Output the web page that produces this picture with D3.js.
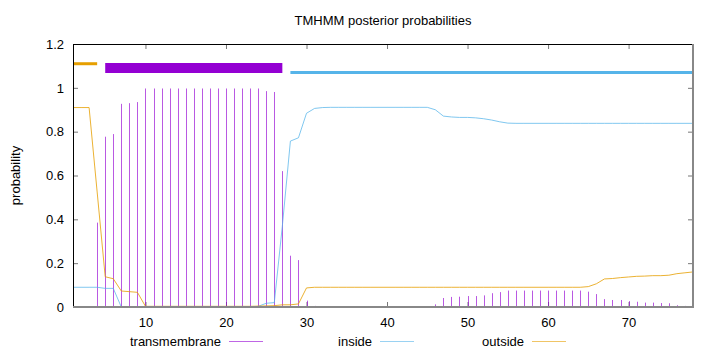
<!DOCTYPE html>
<html>
<head>
<meta charset="utf-8">
<script src="https://cdn.jsdelivr.net/npm/d3@7"></script>
<style>
  body { margin: 0; background: #fff; }
  text { font-family: "Liberation Sans", Arial, sans-serif; font-size: 13px; fill: #000; }
</style>
</head>
<body>
<div id="chart"></div>
<script>
// posterior probabilities per residue (1..78)
const residues = [1,2,3,4,5,6,7,8,9,10,11,12,13,14,15,16,17,18,19,20,
  21,22,23,24,25,26,27,28,29,30,31,32,33,34,35,36,37,38,39,40,
  41,42,43,44,45,46,47,48,49,50,51,52,53,54,55,56,57,58,59,60,
  61,62,63,64,65,66,67,68,69,70,71,72,73,74,75,76,77,78];

const transmembrane = [0,0,0,0.385,0.777,0.789,0.927,0.93,0.935,0.997,
  0.997,0.997,0.997,0.997,0.997,0.997,0.997,0.997,0.997,0.997,
  0.997,0.997,0.997,0.997,0.985,0.981,0.62,0.234,0.214,0.029,
  0.005,0,0,0,0,0,0,0,0,0,
  0,0,0,0,0,0.012,0.041,0.046,0.047,0.05,
  0.05,0.053,0.063,0.068,0.075,0.075,0.075,0.075,0.075,0.075,
  0.075,0.075,0.075,0.075,0.07,0.059,0.036,0.032,0.032,0.027,
  0.024,0.02,0.02,0.018,0.017,0.008,0.005,0];

const inside = [0.09,0.09,0.09,0.09,0.085,0.085,0,0,0,0,
  0,0,0,0,0,0,0,0,0,0,
  0,0,0,0.003,0.017,0.02,0.37,0.757,0.772,0.884,
  0.906,0.91,0.911,0.911,0.911,0.911,0.911,0.911,0.911,0.911,
  0.911,0.911,0.911,0.911,0.911,0.9,0.871,0.867,0.865,0.865,
  0.863,0.859,0.853,0.845,0.839,0.838,0.838,0.838,0.838,0.838,
  0.838,0.838,0.838,0.838,0.838,0.838,0.838,0.838,0.838,0.838,
  0.838,0.838,0.838,0.838,0.838,0.838,0.838,0.838];

const outside = [0.91,0.91,0.91,0.525,0.138,0.129,0.073,0.07,0.067,0.003,
  0.003,0.003,0.003,0.003,0.003,0.003,0.003,0.003,0.003,0.003,
  0.003,0.003,0.003,0.004,0.005,0.006,0.01,0.01,0.014,0.087,
  0.09,0.09,0.09,0.09,0.09,0.09,0.09,0.09,0.09,0.09,
  0.09,0.09,0.09,0.09,0.09,0.09,0.09,0.09,0.09,0.09,
  0.09,0.09,0.09,0.09,0.09,0.09,0.09,0.09,0.09,0.09,
  0.09,0.09,0.09,0.09,0.093,0.106,0.128,0.13,0.134,0.137,
  0.14,0.141,0.143,0.143,0.145,0.152,0.156,0.16];

// predicted topology segments drawn above the curves
const segNames = ['outside', 'transmembrane', 'inside'];
const segStart = [1, 5, 28];
const segEnd = [4, 27, 78];
const segLevel = [1.11, 1.09, 1.07];

const xTicks = [10, 20, 30, 40, 50, 60, 70];
const yTicks = [0, 0.2, 0.4, 0.6, 0.8, 1, 1.2];

const margin = { top: 44, right: 27, bottom: 45, left: 73 };
const width = 720 - margin.left - margin.right;
const height = 352 - margin.top - margin.bottom;

const colors = { transmembrane: '#9400d3', inside: '#56b4e9', outside: '#e69f00' };

const svgRoot = d3.select('#chart').append('svg')
  .attr('width', 720)
  .attr('height', 352);

const svg = svgRoot.append('g')
  .attr('transform', `translate(${margin.left},${margin.top})`);

const x = d3.scaleLinear().domain([1, 78]).range([0, width]);
const y = d3.scaleLinear().domain([0, 1.2]).range([height, 0]);

// axes with inward ticks
const yAxis = svg.append('g')
  .call(d3.axisLeft(y).tickValues(yTicks).tickSize(-5).tickPadding(9)
    .tickFormat(d => d3.format('~g')(d)));
const yAxisR = svg.append('g')
  .attr('transform', `translate(${width},0)`)
  .call(d3.axisRight(y).tickValues(yTicks).tickSize(-5).tickFormat(''));
const xAxis = svg.append('g')
  .attr('transform', `translate(0,${height})`)
  .call(d3.axisBottom(x).tickValues(xTicks).tickSize(-5).tickPadding(11));
const xAxisT = svg.append('g')
  .call(d3.axisTop(x).tickValues(xTicks).tickSize(-5).tickFormat(''));

[yAxis, yAxisR, xAxis, xAxisT].forEach(a => {
  a.select('.domain').remove();
  a.selectAll('line').attr('stroke', '#777');
  a.selectAll('text').style('font-size', '13px').attr('font-family', null);
});

const rows = residues.map((r, i) => ({ r, tm: transmembrane[i], ins: inside[i], out: outside[i] }));

// transmembrane impulses
svg.append('g').selectAll('line')
  .data(rows.filter(d => d.tm > 0))
  .join('line')
  .attr('x1', d => Math.round(x(d.r)) + 0.5)
  .attr('x2', d => Math.round(x(d.r)) + 0.5)
  .attr('y1', y(0))
  .attr('y2', d => y(d.tm))
  .attr('stroke', colors.transmembrane)
  .attr('stroke-opacity', 0.65)
  .attr('stroke-width', 1);

// inside / outside curves
const line = key => d3.line().x(d => x(d.r)).y(d => y(d[key]));

svg.append('path')
  .datum(rows)
  .attr('fill', 'none')
  .attr('stroke', colors.inside)
  .attr('stroke-opacity', 0.75)
  .attr('stroke-width', 1)
  .attr('d', line('ins'));

svg.append('path')
  .datum(rows)
  .attr('fill', 'none')
  .attr('stroke', colors.outside)
  .attr('stroke-opacity', 0.8)
  .attr('stroke-width', 1)
  .attr('d', line('out'));

// topology bars
const segs = segNames.map((n, i) => ({ n, s: segStart[i], e: segEnd[i], v: segLevel[i] }));
svg.append('g').selectAll('line')
  .data(segs)
  .join('line')
  .attr('x1', d => x(d.s))
  .attr('x2', d => x(d.e))
  .attr('y1', d => y(d.v))
  .attr('y2', d => y(d.v))
  .attr('stroke', d => colors[d.n])
  .attr('stroke-width', d => d.n === 'transmembrane' ? 10 : 3);

// border
svg.append('line').attr('x1', 0).attr('x2', width).attr('y1', 0.5).attr('y2', 0.5)
  .attr('stroke', '#000');
svg.append('line').attr('x1', 0.5).attr('x2', 0.5).attr('y1', 0).attr('y2', height)
  .attr('stroke', '#000');
svg.append('line').attr('x1', 0).attr('x2', width + 1).attr('y1', height).attr('y2', height)
  .attr('stroke', '#888').attr('stroke-width', 2);
svg.append('line').attr('x1', width).attr('x2', width).attr('y1', 0).attr('y2', height + 1)
  .attr('stroke', '#888').attr('stroke-width', 2);

// title and axis label
svgRoot.append('text')
  .attr('x', margin.left + width / 2)
  .attr('y', 25)
  .attr('text-anchor', 'middle')
  .text('TMHMM posterior probabilities');

svgRoot.append('text')
  .attr('transform', 'rotate(-90)')
  .attr('x', -(margin.top + height / 2))
  .attr('y', 20)
  .attr('text-anchor', 'middle')
  .text('probability');

// legend
const legendX = [221, 372, 524];
const legend = svgRoot.selectAll('.legend')
  .data(['transmembrane', 'inside', 'outside'])
  .join('g')
  .attr('class', 'legend')
  .attr('transform', (d, i) => `translate(${legendX[i]},0)`);

legend.append('text')
  .attr('x', 0)
  .attr('y', 346)
  .attr('text-anchor', 'end')
  .text(d => d);

legend.append('line')
  .attr('x1', 8)
  .attr('x2', 42)
  .attr('y1', 341.5)
  .attr('y2', 341.5)
  .attr('stroke', d => colors[d])
  .attr('stroke-opacity', 0.6)
  .attr('stroke-width', 1);
</script>
</body>
</html>
